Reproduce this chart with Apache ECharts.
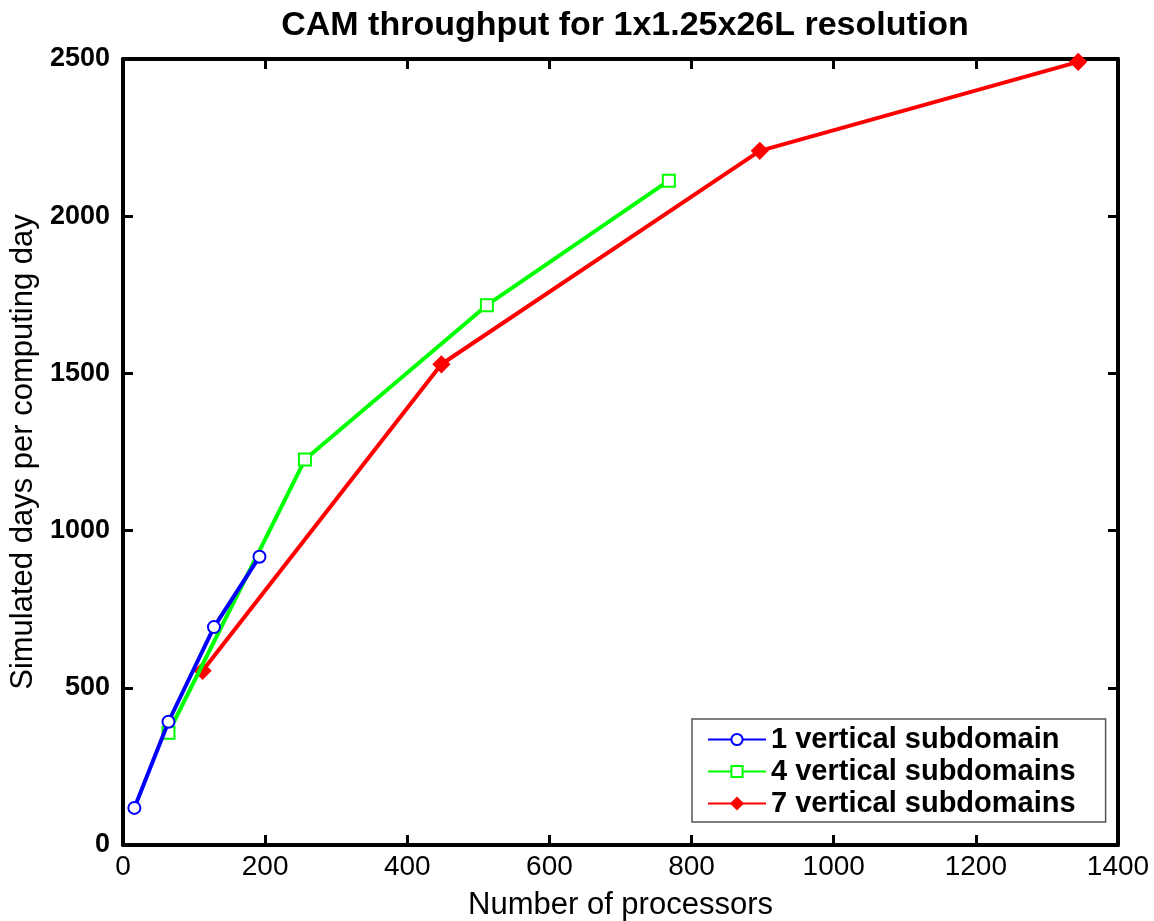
<!DOCTYPE html>
<html>
<head>
<meta charset="utf-8">
<script src="https://cdn.jsdelivr.net/npm/echarts@6/dist/echarts.min.js"></script>
<style>
  html, body { margin: 0; padding: 0; background: #fff; }
  #chart { width: 1154px; height: 921px; }
</style>
</head>
<body>
<div id="chart"></div>
<script>
// data
const seriesNames = ["1 vertical subdomain", "4 vertical subdomains", "7 vertical subdomains"];
const procs1 = [16, 64, 128, 192];
const days1 = [118, 392, 693, 917];
const procs4 = [64, 256, 512, 768];
const days4 = [357, 1226, 1717, 2113];
const procs7 = [112, 448, 896, 1344];
const days7 = [554, 1529, 2208, 2491];

const colors = ["#0000ff", "#00ff00", "#ff0000"];
const symbols = ["emptyCircle", "emptyRect", "diamond"];
const font = "'Liberation Sans', Arial, sans-serif";

function pairs(xs, ys) {
  return xs.map((x, i) => [x, ys[i]]);
}

const chart = echarts.init(document.getElementById("chart"));

// matlab style box: ticks inside, on all four sides
const axisCommon = {
  axisLine: { show: true, onZero: false, lineStyle: { color: "#000", width: 4 } },
  axisTick: { show: true, inside: true, length: 10, lineStyle: { color: "#000", width: 3 } },
  splitLine: { show: false }
};

const option = {
  animation: false,
  backgroundColor: "#fff",
  title: {
    text: "CAM throughput for 1x1.25x26L resolution",
    left: 620,
    textAlign: "center",
    top: 4,
    textStyle: { fontFamily: font, fontSize: 34, fontWeight: "bold", color: "#000" }
  },
  legend: {
    orient: "vertical",
    left: 692,
    top: 719,
    padding: [6, 30, 4, 15],
    itemGap: 3,
    itemWidth: 58,
    itemHeight: 14,
    backgroundColor: "#fff",
    borderColor: "#555",
    borderWidth: 1.5,
    textStyle: { fontFamily: font, fontSize: 29, fontWeight: "bold", color: "#000", lineHeight: 29 },
    data: seriesNames
  },
  grid: { left: 123, right: 36, top: 59, bottom: 76, outerBoundsMode: "none" },
  xAxis: [
    Object.assign({}, axisCommon, {
      type: "value",
      min: 0,
      max: 1400,
      interval: 200,
      name: "Number of processors",
      nameLocation: "middle",
      nameGap: 45,
      nameTextStyle: { fontFamily: font, fontSize: 31, color: "#000" },
      axisLabel: {
        fontFamily: font, fontSize: 28, color: "#000", margin: 8,
        formatter: v => String(v)
      }
    }),
    Object.assign({}, axisCommon, {
      type: "value",
      position: "top",
      min: 0,
      max: 1400,
      interval: 200,
      axisLabel: { show: false }
    })
  ],
  yAxis: [
    Object.assign({}, axisCommon, {
      type: "value",
      min: 0,
      max: 2500,
      interval: 500,
      name: "Simulated days per computing day",
      nameLocation: "middle",
      nameGap: 80,
      nameTextStyle: { fontFamily: font, fontSize: 31, color: "#000" },
      axisLabel: {
        fontFamily: font, fontSize: 27, fontWeight: "bold", color: "#000", margin: 13,
        formatter: v => String(v)
      }
    }),
    Object.assign({}, axisCommon, {
      type: "value",
      position: "right",
      min: 0,
      max: 2500,
      interval: 500,
      axisLabel: { show: false }
    })
  ],
  series: [
    { x: procs1, y: days1 },
    { x: procs4, y: days4 },
    { x: procs7, y: days7 }
  ].map((s, i) => ({
    name: seriesNames[i],
    type: "line",
    data: pairs(s.x, s.y),
    symbol: symbols[i],
    symbolSize: i === 2 ? 14 : 12,
    lineStyle: { color: colors[i], width: 4 },
    itemStyle: { color: colors[i], borderColor: colors[i], borderWidth: 3 },
    z: 3 - i
  }))
};

chart.setOption(option);
</script>
</body>
</html>
